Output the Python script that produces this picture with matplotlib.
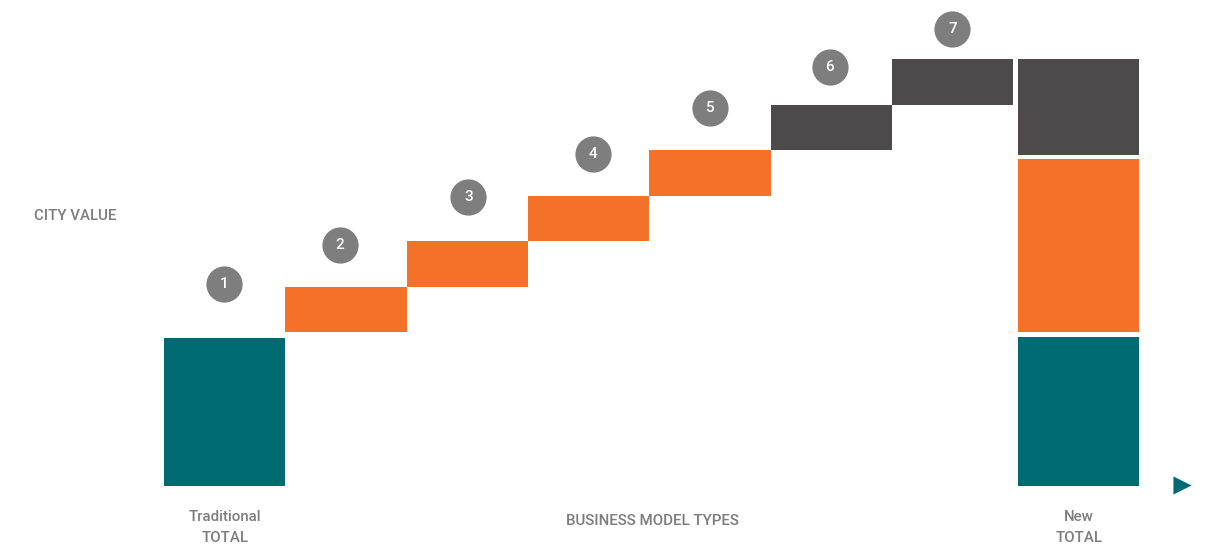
import matplotlib
matplotlib.use("Agg")
import matplotlib.pyplot as plt

# ---- data ----
traditional_total = 3.25
step_labels = ["2", "3", "4", "5", "6", "7"]
step_values = [1.0, 1.0, 1.0, 1.0, 1.0, 1.0]
step_kinds = ["orange", "orange", "orange", "orange", "dark", "dark"]
new_total_segments = [3.27, 3.81, 2.11]          # teal, orange, dark
new_total_kinds = ["teal", "orange", "dark"]
x_labels = ["Traditional\nTOTAL", "New\nTOTAL"]
axis_title_y = "CITY VALUE"
axis_title_x = "BUSINESS MODEL TYPES"

# ---- style / layout ----
COL = {"teal": "#006a72", "orange": "#f37129", "dark": "#4d4a4b"}
CIRCLE = "#7f7e7f"
TXT = "#7d7d7d"
FONT = "Roboto"
WEIGHT = "medium"
start_gap = 0.13
seg_gaps = [0.11, 0.08]
circle_offsets = [1.19, 0.92, 0.97, 0.92, 0.93, 0.83, 0.66]
circle_xshift = [-0.005, -0.05, 0.01, 0.04, 0.0, -0.01, 0.0]

W, H = 1210, 548
fig = plt.figure(figsize=(W / 100, H / 100), dpi=100)
ax = fig.add_axes([0, 0, 1, 1])
ux, uy = 121.3, 45.5
ax.set_xlim(-164 / ux, (W - 164) / ux)
ax.set_ylim(-(H - 486) / uy, 486 / uy)
ax.axis("off")

# traditional total
ax.bar(0, traditional_total, width=1.0, align="edge", color=COL["teal"], linewidth=0)
tops = [traditional_total]
centers = [0.5]

# steps
level = traditional_total + start_gap
for i, (v, k) in enumerate(zip(step_values, step_kinds)):
    ax.bar(i + 1, v, bottom=level, width=1.0, align="edge", color=COL[k], linewidth=0)
    level += v
    tops.append(level)
    centers.append(i + 1.5)

# new total
xt = 7 + 5 / ux
b = 0.0
for j, (h, k) in enumerate(zip(new_total_segments, new_total_kinds)):
    ax.bar(xt, h, bottom=b, width=1.0, align="edge", color=COL[k], linewidth=0)
    b += h
    if j < len(seg_gaps):
        b += seg_gaps[j]

# numbered circles
nums = ["1"] + step_labels
for n, c, t, off, dx in zip(nums, centers, tops, circle_offsets, circle_xshift):
    ax.scatter([c + dx], [t + off], s=680, color=CIRCLE, linewidths=0, zorder=3)
    ax.text(c + dx, t + off, n, color="white", fontsize=11, family=FONT,
            weight=WEIGHT, ha="center", va="center", zorder=4)

# text labels
fs = 10.8
ax.text(-89 / ux, (486 - 216) / uy, axis_title_y, color=TXT, fontsize=fs, family=FONT,
        weight=WEIGHT, ha="center", va="center")
ax.text((652 - 164) / ux, (486 - 521) / uy, axis_title_x, color=TXT, fontsize=fs,
        family=FONT, weight=WEIGHT, ha="center", va="center")
ax.text(0.5, (486 - 527.5) / uy, x_labels[0], color=TXT, fontsize=fs, family=FONT,
        weight=WEIGHT, ha="center", va="center", linespacing=1.6)
ax.text(xt + 0.5, (486 - 527.5) / uy, x_labels[1], color=TXT, fontsize=fs, family=FONT,
        weight=WEIGHT, ha="center", va="center", linespacing=1.6)

# arrow
ax.scatter([(1182 - 164) / ux], [(486 - 485) / uy], marker=">", s=170,
           color=COL["teal"], linewidths=0)

fig.savefig("out.png", dpi=100, facecolor="white")
